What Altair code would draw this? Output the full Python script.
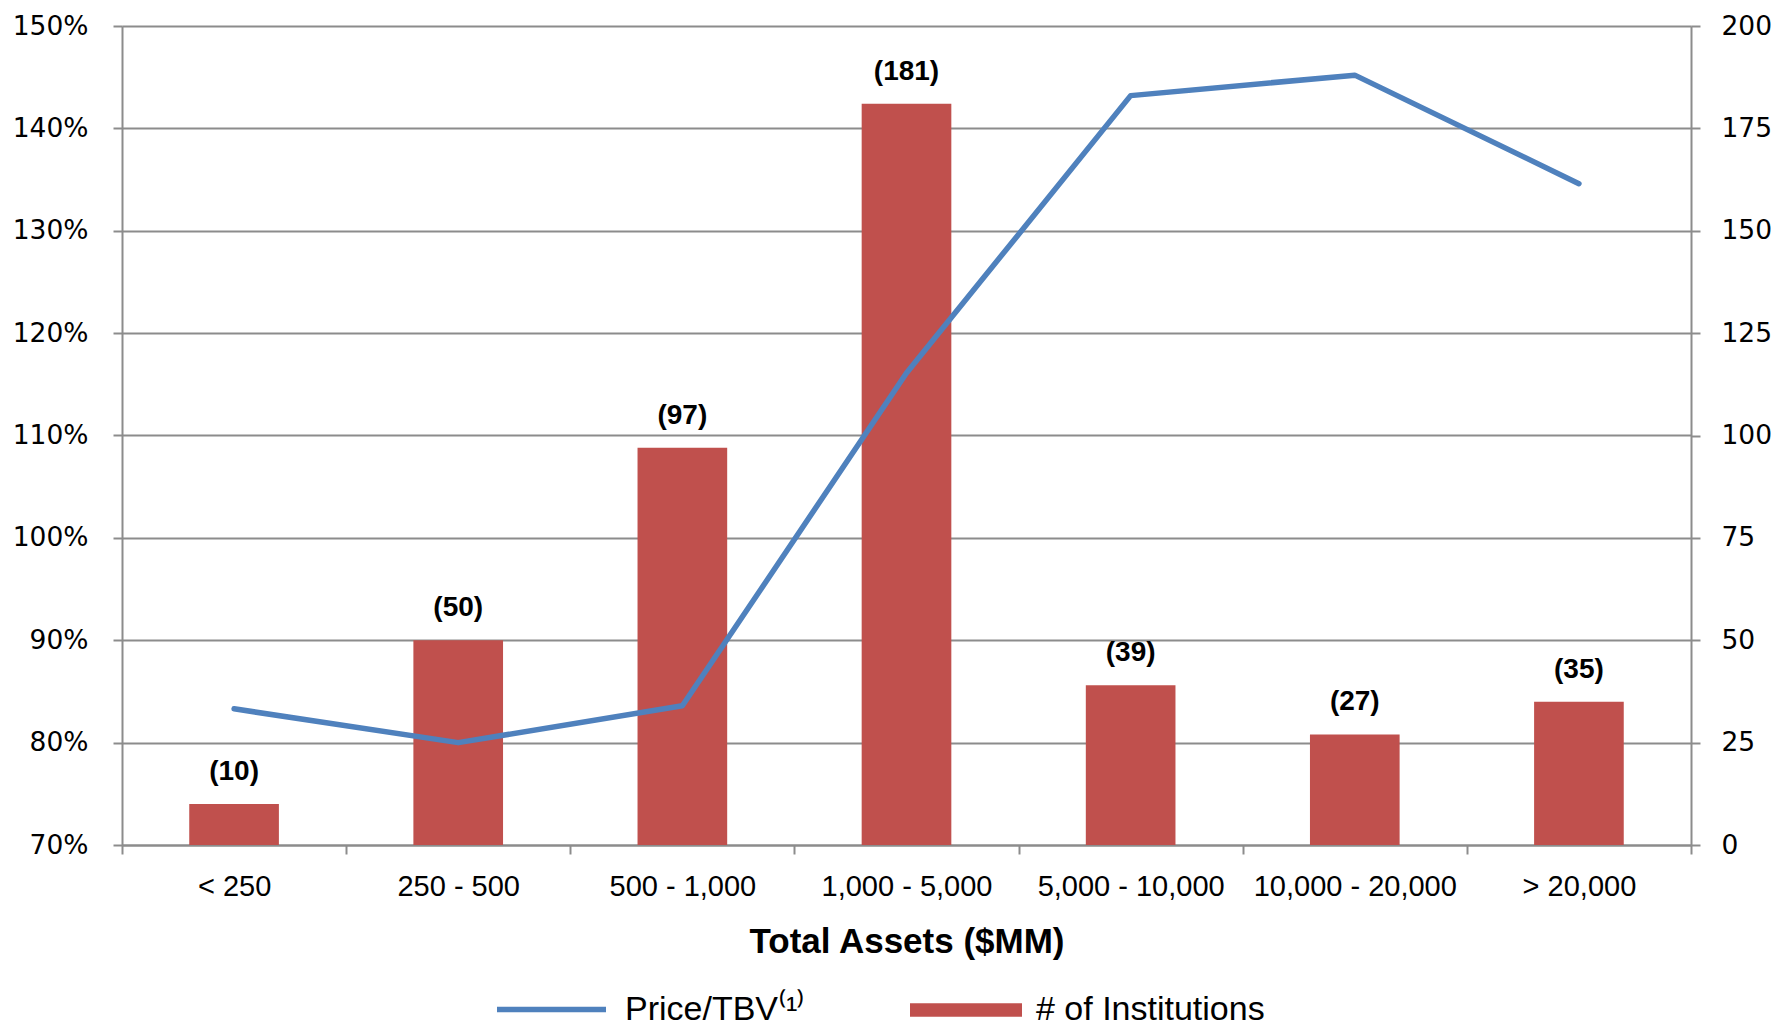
import altair as alt
import pandas as pd

# ---- data ----
categories = ["< 250", "250 - 500", "500 - 1,000", "1,000 - 5,000",
              "5,000 - 10,000", "10,000 - 20,000", "> 20,000"]
institutions = [10, 50, 97, 181, 39, 27, 35]
price_tbv = [0.833, 0.800, 0.836, 1.161, 1.432, 1.452, 1.346]
line_series = "Price/TBV\u207d\u00b9\u207e"
bar_series = "# of Institutions"

df = pd.DataFrame({
    "cat": categories,
    "n": institutions,
    "ptbv": price_tbv,
    "lab": [f"({v})" for v in institutions],
    "s_line": line_series,
    "s_bar": bar_series,
})

NARROW = "Liberation Sans"
WIDE = "DejaVu Sans"
GRAY = "#8C8C8C"
RED = "#C0504D"
BLUE = "#4F81BD"

x_enc = alt.X(
    "cat:N", sort=categories, title="Total Assets ($MM)",
    scale=alt.Scale(paddingInner=0, paddingOuter=0),
    axis=alt.Axis(labelAngle=0, tickBand="extent", labelFont=NARROW, labelFontSize=29,
                  labelColor="black", labelPadding=18, labelLimit=0, tickSize=9,
                  tickColor=GRAY, tickWidth=2, domainColor=GRAY, domainWidth=2, grid=False,
                  titleFont=NARROW, titleFontSize=35, titleFontWeight="bold",
                  titleColor="black", titlePadding=23),
)

bars = alt.Chart(df).mark_bar(width=alt.RelativeBandSize(0.4)).encode(
    x=x_enc,
    y=alt.Y("n:Q", title=None, scale=alt.Scale(domain=[0, 200], nice=False),
            axis=alt.Axis(orient="right", values=list(range(0, 201, 25)), grid=False,
                          labelFont=WIDE, labelFontSize=26.5, labelColor="black",
                          labelPadding=21, tickSize=9, tickColor=GRAY, tickWidth=2,
                          domainColor=GRAY, domainWidth=2)),
    fill=alt.Fill("s_bar:N", title=None, scale=alt.Scale(domain=[bar_series], range=[RED]),
                  legend=alt.Legend(orient="none", legendX=788, legendY=928,
                                    symbolType="M-1,-0.12H1V0.12H-1Z",
                                    symbolSize=12544, symbolStrokeWidth=0, labelOffset=14,
                                    labelFont=NARROW, labelFontSize=34, labelColor="black",
                                    labelLimit=0, padding=0)),
)

labels = alt.Chart(df).mark_text(baseline="bottom", dy=-18, font=NARROW, fontSize=28,
                                 fontWeight="bold", color="black").encode(
    x=alt.X("cat:N", sort=categories),
    y=alt.Y("n:Q"),
    text="lab:N",
)

line = alt.Chart(df).mark_line(strokeWidth=5.5, strokeCap="round", strokeJoin="round").encode(
    x=alt.X("cat:N", sort=categories),
    y=alt.Y("ptbv:Q", title=None, scale=alt.Scale(domain=[0.7, 1.5], nice=False),
            axis=alt.Axis(orient="left", values=[0.7, 0.8, 0.9, 1.0, 1.1, 1.2, 1.3, 1.4, 1.5],
                          format=".0%", grid=True, gridColor=GRAY, gridWidth=2,
                          labelFont=WIDE, labelFontSize=26.5, labelColor="black",
                          labelPadding=25, tickSize=9, tickColor=GRAY, tickWidth=2,
                          domainColor=GRAY, domainWidth=2)),
    color=alt.Color("s_line:N", title=None, scale=alt.Scale(domain=[line_series], range=[BLUE]),
                    legend=alt.Legend(orient="none", legendX=372, legendY=926,
                                      symbolType="stroke",
                                      symbolSize=11881, symbolStrokeWidth=5.5, labelOffset=16,
                                      labelFont=NARROW, labelFontSize=34, labelColor="black",
                                      labelLimit=0, padding=0)),
)

chart = alt.layer(alt.layer(bars, labels), line).resolve_scale(
    y="independent", fill="independent", color="independent"
).properties(
    width=1569, height=819,
    padding={"left": 4, "top": 5, "right": 5, "bottom": 0},
).configure_view(stroke=None).configure(background="white")

chart.save("out.html", embed_options={"renderer": "svg", "actions": False})
